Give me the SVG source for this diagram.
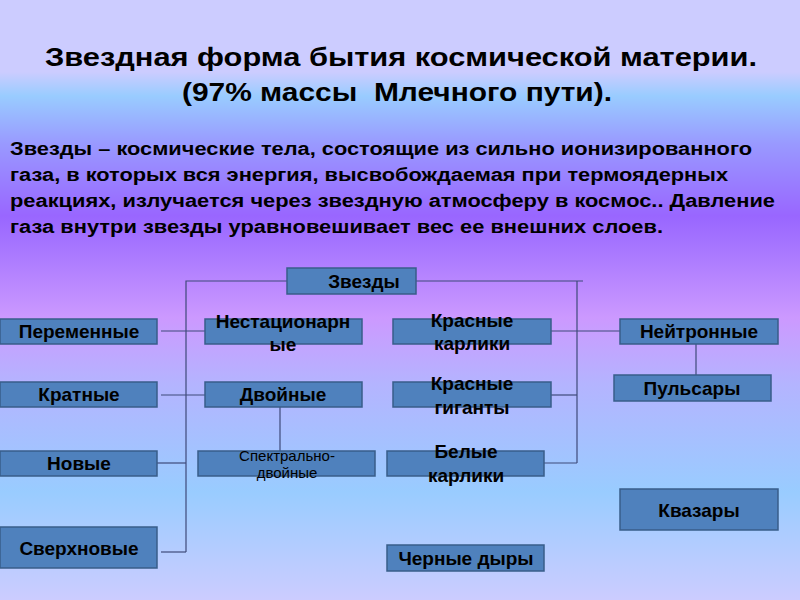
<svg xmlns="http://www.w3.org/2000/svg" width="800" height="600" viewBox="0 0 800 600">
<defs>
<linearGradient id="bg" x1="0" y1="0" x2="0" y2="1">
<stop offset="0" stop-color="#CCCCFF"/>
<stop offset="0.12" stop-color="#CCCCFF"/>
<stop offset="0.16" stop-color="#99CCFF"/>
<stop offset="0.24" stop-color="#9999FF"/>
<stop offset="0.36" stop-color="#9966FF"/>
<stop offset="0.41" stop-color="#A675FF"/>
<stop offset="0.53" stop-color="#CC99FF"/>
<stop offset="0.64" stop-color="#B4B4FF"/>
<stop offset="0.82" stop-color="#99CCFF"/>
<stop offset="1" stop-color="#CCCCFF"/>
</linearGradient>
</defs>
<style>
.box{fill:#4F81BD;stroke:#385D8A;stroke-width:1.5}
.t{font-family:"Liberation Sans",Arial,sans-serif;font-weight:bold;fill:#000;text-anchor:middle;font-size:19px}
.s{font-size:15px;font-weight:normal}
.h{font-family:"Liberation Sans",Arial,sans-serif;font-weight:bold;fill:#000}
.c{stroke:#3F4A7A;stroke-width:1.2;fill:none}
</style>
<rect width="800" height="600" fill="url(#bg)"/>
<g id="title">
<text class="h" x="45" y="66" font-size="26" textLength="712" lengthAdjust="spacingAndGlyphs">Звездная форма бытия космической материи.</text>
<text class="h" x="182" y="101" font-size="26" textLength="430" lengthAdjust="spacingAndGlyphs" xml:space="preserve">(97% массы  Млечного пути).</text>
</g>
<g id="definition" class="h" font-size="18">
<text x="10" y="155" textLength="742" lengthAdjust="spacingAndGlyphs">Звезды – космические тела, состоящие из сильно ионизированного</text>
<text x="10" y="181" textLength="718" lengthAdjust="spacingAndGlyphs">газа, в которых вся энергия, высвобождаемая при термоядерных</text>
<text x="10" y="207" textLength="765" lengthAdjust="spacingAndGlyphs">реакциях, излучается через звездную атмосферу в космос.. Давление</text>
<text x="10" y="233" textLength="653" lengthAdjust="spacingAndGlyphs">газа внутри звезды уравновешивает вес ее внешних слоев.</text>
</g>
<g id="connectors">
<polyline class="c" points="287,281 186,281 186,552"/>
<line class="c" x1="161" y1="331" x2="205" y2="331"/>
<line class="c" x1="161" y1="395" x2="205" y2="395"/>
<line class="c" x1="155" y1="463" x2="186" y2="463"/>
<line class="c" x1="161" y1="552" x2="186" y2="552"/>
<line class="c" x1="280" y1="407" x2="280" y2="451"/>
<line class="c" x1="416" y1="281" x2="583" y2="281"/>
<line class="c" x1="577" y1="281" x2="577" y2="463"/>
<line class="c" x1="551" y1="331" x2="620" y2="331"/>
<line class="c" x1="545" y1="395" x2="577" y2="395"/>
<line class="c" x1="544" y1="463" x2="577" y2="463"/>
<line class="c" x1="696" y1="344" x2="696" y2="375"/>
</g>
<g id="n-stars"><rect class="box" x="287" y="268" width="129" height="26"/><text class="t" x="364" y="288">Звезды</text></g>
<g id="n-variable"><rect class="box" x="0" y="319" width="157" height="25"/><text class="t" x="79" y="338">Переменные</text></g>
<g id="n-nonstationary"><rect class="box" x="205" y="319" width="157" height="25"/><text class="t" x="283" y="328">Нестационарн</text><text class="t" x="283" y="351">ые</text></g>
<g id="n-reddwarfs"><rect class="box" x="393" y="319" width="158" height="25"/><text class="t" x="472" y="327">Красные</text><text class="t" x="472" y="350">карлики</text></g>
<g id="n-neutron"><rect class="box" x="620" y="319" width="158" height="25"/><text class="t" x="699" y="338">Нейтронные</text></g>
<g id="n-multiple"><rect class="box" x="0" y="382" width="157" height="25"/><text class="t" x="79" y="401">Кратные</text></g>
<g id="n-double"><rect class="box" x="205" y="382" width="157" height="25"/><text class="t" x="283" y="401">Двойные</text></g>
<g id="n-redgiants"><rect class="box" x="393" y="382" width="158" height="25"/><text class="t" x="472" y="390">Красные</text><text class="t" x="472" y="414">гиганты</text></g>
<g id="n-pulsars"><rect class="box" x="614" y="375" width="157" height="26"/><text class="t" x="692" y="395">Пульсары</text></g>
<g id="n-novae"><rect class="box" x="0" y="451" width="157" height="25"/><text class="t" x="79" y="470">Новые</text></g>
<g id="n-spectral"><rect class="box" x="198" y="451" width="177" height="25"/><text class="t s" x="287" y="461">Спектрально-</text><text class="t s" x="287" y="478">двойные</text></g>
<g id="n-whitedwarfs"><rect class="box" x="387" y="451" width="157" height="25"/><text class="t" x="466" y="458">Белые</text><text class="t" x="466" y="482">карлики</text></g>
<g id="n-quasars"><rect class="box" x="620" y="489" width="158" height="41"/><text class="t" x="699" y="517">Квазары</text></g>
<g id="n-supernovae"><rect class="box" x="0" y="527" width="157" height="41"/><text class="t" x="79" y="555">Сверхновые</text></g>
<g id="n-blackholes"><rect class="box" x="387" y="545" width="157" height="26"/><text class="t" x="466" y="565">Черные дыры</text></g>
</svg>
